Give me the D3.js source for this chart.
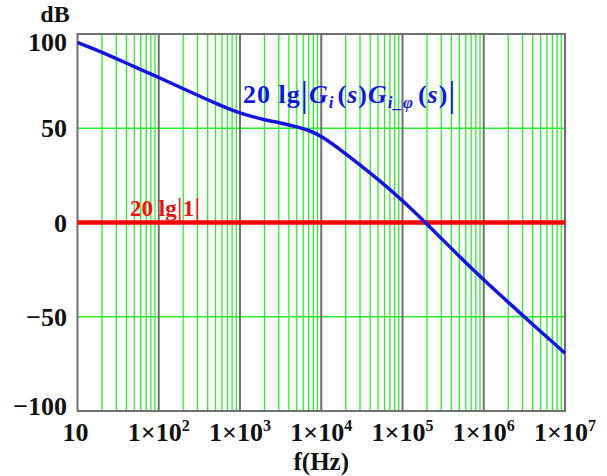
<!DOCTYPE html>
<html><head><meta charset="utf-8">
<script src="https://cdn.jsdelivr.net/npm/d3@7"></script>
<style>body{margin:0;background:#fff}svg{display:block}</style>
</head><body><svg id="c" width="607" height="476"></svg>
<script>
const freqs = [10,20,50,100,200,500,1000,2000,3000,5000,7000,10000,20000,30000,50000,100000,200000,500000,1e6,2e6,5e6,1e7];
const gainDB = [95.5,90.5,82.6,77,71,63.2,57.8,54.5,53,50.8,49,46,36.5,30.5,23,11.8,-0.8,-18,-30.5,-42.3,-57.8,-69.3];
const unityDB = [0,0];
const unityFreqs = [10,1e7];
const yTicks = [-100,-50,0,50,100];
const xTickExp = [1,2,3,4,5,6,7];

const FF="'Liberation Serif', Tinos, 'Times New Roman', Times, serif";
const W=607,H=476,m={l:77.5,r:42,t:34,b:65};
const svg=d3.select("#c").attr("font-family",FF).attr("font-weight","bold");
const x=d3.scaleLog().domain([10,1e7]).range([m.l,W-m.r]);
const y=d3.scaleLinear().domain([-100,100]).range([H-m.b,m.t]);

const minor=[];
for(let e=1;e<7;e++) for(let k=2;k<=9;k++) minor.push(k*Math.pow(10,e));
svg.append("g").selectAll("line").data(minor).join("line")
 .attr("x1",d=>x(d)).attr("x2",d=>x(d)).attr("y1",y(100)).attr("y2",y(-100))
 .attr("stroke","#2aee2a").attr("stroke-width",1.3);
svg.append("g").selectAll("line").data([-50,50]).join("line")
 .attr("x1",x(10)).attr("x2",x(1e7)).attr("y1",d=>y(d)).attr("y2",d=>y(d))
 .attr("stroke","#2aee2a").attr("stroke-width",1.3);
svg.append("g").selectAll("line").data(xTickExp.slice(1,-1).map(e=>Math.pow(10,e))).join("line")
 .attr("x1",d=>x(d)).attr("x2",d=>x(d)).attr("y1",y(100)).attr("y2",y(-100))
 .attr("stroke","#707070").attr("stroke-width",2);
svg.append("rect").attr("x",x(10)).attr("y",y(100)).attr("width",x(1e7)-x(10)).attr("height",y(-100)-y(100))
 .attr("fill","none").attr("stroke","#707070").attr("stroke-width",2);

svg.append("path").datum(unityFreqs.map((f,i)=>[f,unityDB[i]]))
 .attr("d",d3.line().x(d=>x(d[0])).y(d=>y(d[1])))
 .attr("stroke","#ff0000").attr("stroke-width",4.5).attr("fill","none");
svg.append("path").datum(freqs.map((f,i)=>[f,gainDB[i]]))
 .attr("d",d3.line().x(d=>x(d[0])).y(d=>y(d[1])).curve(d3.curveBasis))
 .attr("stroke","#1414e6").attr("stroke-width",3.5).attr("fill","none").attr("stroke-linejoin","round");

svg.append("g").selectAll("text").data(yTicks).join("text")
 .attr("x",67).attr("y",d=>Math.min(Math.max(y(d),42),406)).attr("dy","0.35em")
 .attr("text-anchor","end").attr("font-size",26).attr("fill","#111")
 .text(d=>d<0?"\u2212"+(-d):d);
svg.append("text").attr("x",55).attr("y",22).attr("text-anchor","middle").attr("font-size",24).attr("fill","#111").text("dB");

const xl=svg.append("g");
xTickExp.forEach(e=>{
  const t=xl.append("text").attr("x",x(Math.pow(10,e))-(e===1?2:0)).attr("y",441).attr("text-anchor","middle").attr("font-size",26).attr("fill","#111");
  if(e===1){t.text("10");}
  else{t.append("tspan").text("1\u00d710");t.append("tspan").attr("font-size",16).attr("dy",-10).text(e);}
});
svg.append("text").attr("x",x(Math.pow(10,4))).attr("y",470).attr("text-anchor","middle").attr("font-size",25).attr("fill","#111").text("f(Hz)");

const bl=svg.append("text").attr("x",243).attr("y",103).attr("font-size",26).attr("fill","#1414e6").attr("letter-spacing",1);
bl.append("tspan").text("20 lg");
bl.append("tspan").attr("font-weight","normal").attr("font-size",36).attr("dy",3).text("|");
bl.append("tspan").attr("font-style","italic").attr("dy",-3).text("G");
bl.append("tspan").attr("font-style","italic").attr("font-size",17).attr("dy",5).text("i");
bl.append("tspan").attr("dy",-5).attr("dx",3).text("(");
bl.append("tspan").attr("font-style","italic").text("s");
bl.append("tspan").text(")");
bl.append("tspan").attr("font-style","italic").text("G");
bl.append("tspan").attr("font-style","italic").attr("font-size",17).attr("dy",5).text("i_\u03c6");
bl.append("tspan").attr("dy",-5).attr("dx",4).text("(");
bl.append("tspan").attr("font-style","italic").text("s");
bl.append("tspan").text(")");
bl.append("tspan").attr("font-weight","normal").attr("font-size",36).attr("dy",3).text("|");

const rl=svg.append("text").attr("x",130).attr("y",216).attr("font-size",23).attr("fill","#ee1111");
rl.append("tspan").text("20 lg");
rl.append("tspan").attr("font-weight","normal").attr("font-size",30).attr("dy",2).text("|");
rl.append("tspan").attr("dy",-2).text("1");
rl.append("tspan").attr("font-weight","normal").attr("font-size",30).attr("dy",2).text("|");
</script></body></html>
